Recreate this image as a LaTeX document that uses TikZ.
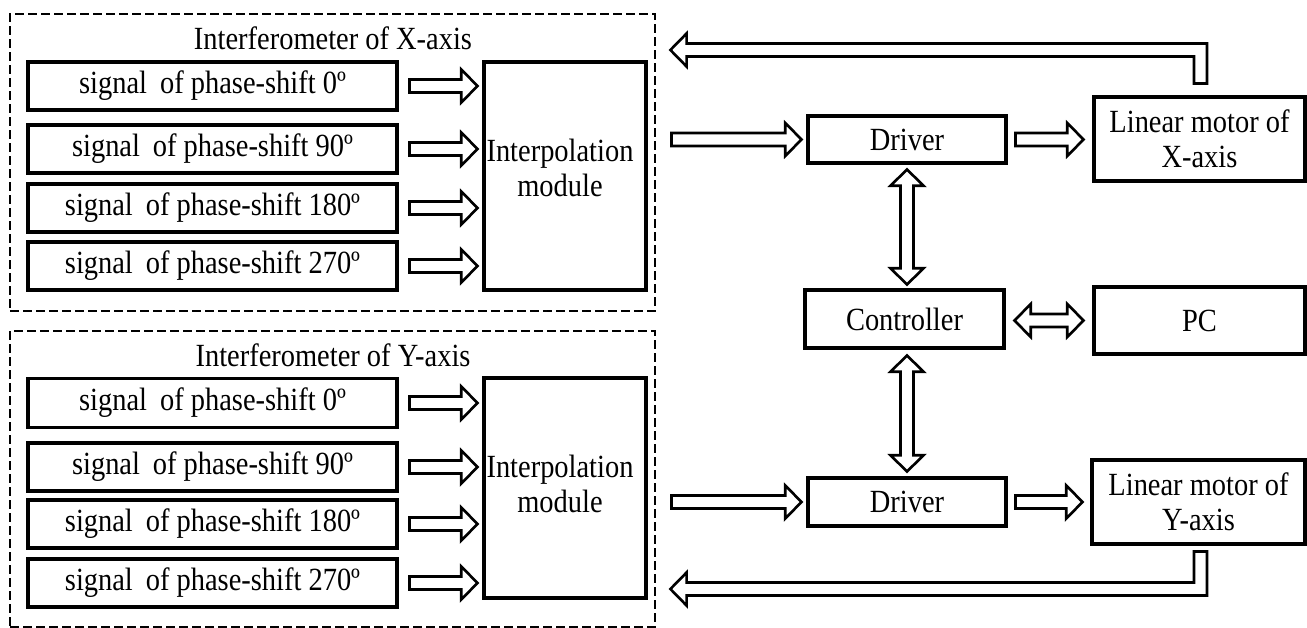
\documentclass[tikz,border=0pt]{standalone}
\usepackage{fontspec}
\setmainfont{Liberation Serif}[FakeStretch=0.88]
\usetikzlibrary{calc}

% block-arrow geometry
\def\asw{3.7pt}  % half thickness of the shaft
\def\ahw{9.4pt}  % half width of the head
\def\ahl{9.2pt}  % length of the head

% hollow arrow pointing right, from #1 to #2
\newcommand\rarr[2]{%
  \path[arr] let \p1=(#1), \p2=(#2) in
    (\x1,\y1-\asw) -- (\x2-\ahl,\y1-\asw) -- (\x2-\ahl,\y1-\ahw) -- (\x2,\y1)
    -- (\x2-\ahl,\y1+\ahw) -- (\x2-\ahl,\y1+\asw) -- (\x1,\y1+\asw) -- cycle;}

% hollow double arrow, horizontal, #1 left end, #2 right end
\newcommand\hdarr[2]{%
  \path[arr] let \p1=(#1), \p2=(#2) in
    (\x1,\y1) -- (\x1+\ahl,\y1+\ahw) -- (\x1+\ahl,\y1+\asw) -- (\x2-\ahl,\y1+\asw)
    -- (\x2-\ahl,\y1+\ahw) -- (\x2,\y1) -- (\x2-\ahl,\y1-\ahw) -- (\x2-\ahl,\y1-\asw)
    -- (\x1+\ahl,\y1-\asw) -- (\x1+\ahl,\y1-\ahw) -- cycle;}

% hollow double arrow, vertical, #1 top end, #2 bottom end
\newcommand\vdarr[2]{%
  \path[arr] let \p1=(#1), \p2=(#2) in
    (\x1,\y1) -- (\x1+\ahw,\y1-\ahl) -- (\x1+\asw,\y1-\ahl) -- (\x1+\asw,\y2+\ahl)
    -- (\x1+\ahw,\y2+\ahl) -- (\x1,\y2) -- (\x1-\ahw,\y2+\ahl) -- (\x1-\asw,\y2+\ahl)
    -- (\x1-\asw,\y1-\ahl) -- (\x1-\ahw,\y1-\ahl) -- cycle;}

% feedback arrow: up from #1, then left to the tip #2
\newcommand\uparr[2]{%
  \path[arr] let \p1=(#1), \p2=(#2) in
    (\x1-\asw,\y1) -- (\x1-\asw,\y2-\asw) -- (\x2+\ahl,\y2-\asw) -- (\x2+\ahl,\y2-\ahw)
    -- (\x2,\y2) -- (\x2+\ahl,\y2+\ahw) -- (\x2+\ahl,\y2+\asw) -- (\x1+\asw,\y2+\asw)
    -- (\x1+\asw,\y1) -- cycle;}

% feedback arrow: down from #1, then left to the tip #2
\newcommand\dnarr[2]{%
  \path[arr] let \p1=(#1), \p2=(#2) in
    (\x1-\asw,\y1) -- (\x1-\asw,\y2+\asw) -- (\x2+\ahl,\y2+\asw) -- (\x2+\ahl,\y2+\ahw)
    -- (\x2,\y2) -- (\x2+\ahl,\y2-\ahw) -- (\x2+\ahl,\y2-\asw) -- (\x1+\asw,\y2-\asw)
    -- (\x1+\asw,\y1) -- cycle;}

\newcommand\sig[1]{signal\hspace{0.4em}of phase-shift #1º}

\begin{document}
\begin{tikzpicture}[x=0.02cm,y=-0.02cm,
  lbl/.style={font=\fontsize{18.4}{20}\selectfont, align=center, inner sep=0pt},
  box/.style={lbl, draw, line width=1.75pt},
  sz/.style 2 args={minimum width={#1*0.02cm}, minimum height={#2*0.02cm}},
  frame/.style={draw, line width=1.6pt, dash pattern=on 5pt off 2.4pt, inner sep=0pt},
  arr/.style={draw, line width=1.5pt, fill=white, line join=miter}]
\useasboundingbox (0,0) rectangle (1307,628);

% ---------- interferometer of the X axis ----------
\node[frame, sz={645}{297}] (fx) at (332.5,162.5) {};
\node[lbl] (tx) at (333,38) {Interferometer of X-axis};
\node[box, sz={369}{48}] (sx0) at (212.5,86)  {\sig{0}};
\node[box, sz={369}{48}] (sx1) at (212.5,149) {\sig{90}};
\node[box, sz={369}{48}] (sx2) at (212.5,208) {\sig{180}};
\node[box, sz={369}{48}] (sx3) at (212.5,266) {\sig{270}};
\node[box, sz={162}{228}] (ix) at (565,176) {};
\node[lbl] (ixt) at ($(ix.center)+(-5,-8)$) {Interpolation\\module};
\foreach \s in {sx0,sx1,sx2,sx3}
  \rarr{$(\s.east)+(11,0)$}{$(ix.west |- \s.east)+(-5,0)$};

% ---------- interferometer of the Y axis ----------
\node[frame, sz={645}{296}] (fy) at (332.5,479) {};
\node[lbl] (ty) at (333,355) {Interferometer of Y-axis};
\node[box, sz={369}{49}] (sy0) at (212.5,403) {\sig{0}};
\node[box, sz={369}{48}] (sy1) at (212.5,467) {\sig{90}};
\node[box, sz={369}{48}] (sy2) at (212.5,524) {\sig{180}};
\node[box, sz={369}{48}] (sy3) at (212.5,583) {\sig{270}};
\node[box, sz={162}{220}] (iy) at (565,488) {};
\node[lbl] (iyt) at ($(iy.center)+(-5,-4)$) {Interpolation\\module};
\foreach \s in {sy0,sy1,sy2,sy3}
  \rarr{$(\s.east)+(11,0)$}{$(iy.west |- \s.east)+(-5,0)$};

% ---------- drive chain ----------
\node[box, sz={198}{47}] (dx) at (907,139.5) {Driver};
\node[box, sz={199}{58}] (ct) at (904.5,319)  {Controller};
\node[box, sz={198}{48}] (dy) at (907,502)   {Driver};
\node[box, sz={211}{84}] (mx) at (1199.5,139) {Linear motor of\\X-axis};
\node[box, sz={211}{67}] (pc) at (1199.5,320.5) {PC};
\node[box, sz={213}{84}] (my) at (1198.5,502) {Linear motor of\\Y-axis};

\rarr{$(ix.east |- dx.west)+(24,0)$}{$(dx.west)+(-5,0)$};
\rarr{$(iy.east |- dy.west)+(24,0)$}{$(dy.west)+(-5,0)$};
\rarr{$(dx.east)+(8,0)$}{$(mx.west |- dx.east)+(-9,0)$};
\rarr{$(dy.east)+(8,0)$}{$(my.west |- dy.east)+(-8,0)$};
\hdarr{$(ct.east |- pc.west)+(9,0)$}{$(pc.west)+(-9,0)$};
\vdarr{$(dx.south)+(0,5)$}{$(dx.south |- ct.north)+(0,-4)$};
\vdarr{$(dx.south |- ct.south)+(0,6)$}{$(dy.north)+(0,-5)$};

% ---------- position feedback ----------
\coordinate (fbx) at ($(fx.east |- 0,50)+(14,0)$);
\coordinate (fby) at ($(fy.east |- 0,589)+(14,0)$);
\uparr{$(mx.north)+(1,-12)$}{fbx};
\dnarr{$(my.south)+(2,6)$}{fby};
\end{tikzpicture}
\end{document}
